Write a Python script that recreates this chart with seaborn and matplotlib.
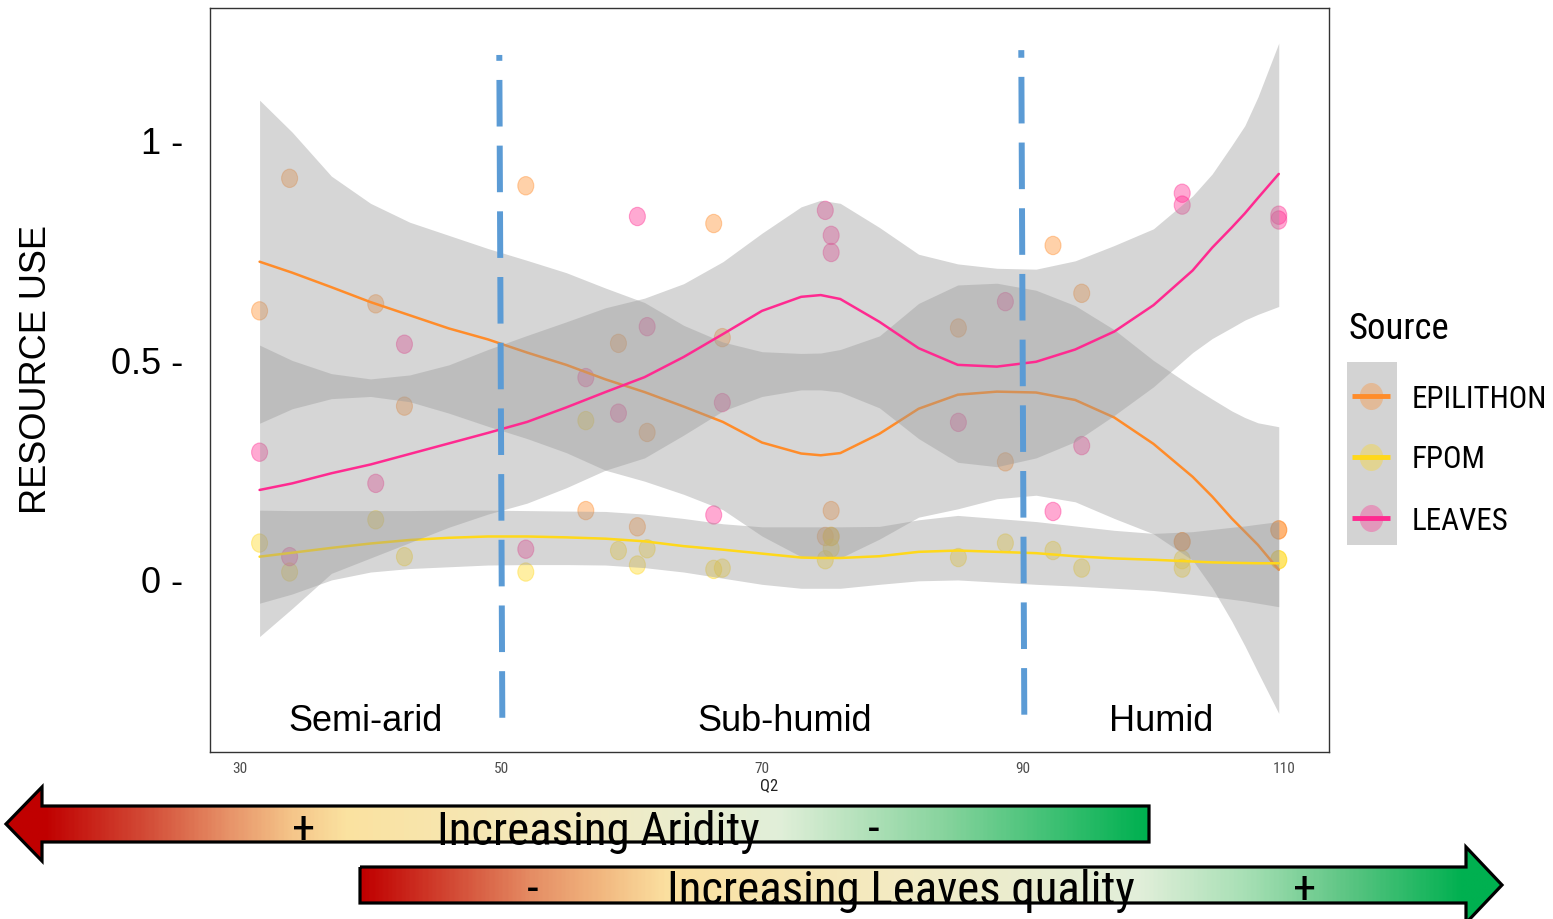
import os
import numpy as np
import pandas as pd
import matplotlib
matplotlib.use("Agg")
import matplotlib.pyplot as plt
import seaborn as sns
from matplotlib.path import Path
from matplotlib.patches import Polygon, Rectangle
from matplotlib.colors import LinearSegmentedColormap
from matplotlib import font_manager as fm
from matplotlib.font_manager import FontProperties

# ---------------- data ----------------
site_q2 = [31.5, 33.8, 40.4, 42.6, 51.9, 56.5, 59.0, 60.45, 61.2, 66.3, 66.96,
           74.85, 75.3, 75.3, 85.05, 88.65, 92.3, 94.5, 102.2, 102.2, 109.6, 109.6]
epilithon = [0.613, 0.915, 0.629, 0.396, 0.898, 0.158, 0.539, 0.121, 0.336, 0.812, 0.552,
             0.099, 0.099, 0.158, 0.574, 0.269, 0.762, 0.653, 0.087, 0.087, 0.114, 0.114]
fpom = [0.084, 0.018, 0.137, 0.053, 0.018, 0.363, 0.067, 0.034, 0.071, 0.024, 0.027,
        0.046, 0.099, 0.072, 0.051, 0.084, 0.067, 0.027, 0.027, 0.046, 0.046, 0.046]
leaves = [0.291, 0.053, 0.220, 0.537, 0.070, 0.461, 0.380, 0.828, 0.577, 0.148, 0.404,
          0.842, 0.785, 0.746, 0.359, 0.634, 0.156, 0.306, 0.881, 0.854, 0.831, 0.820]

# smoothed fits and their confidence bands
grid_q2 = [31.5, 34, 37, 40, 43, 46, 49, 52, 55, 58, 61, 64, 67, 70, 73, 74.5, 76, 79, 82,
           85, 88, 91, 94, 97, 100, 103, 104.5, 106, 107, 108, 109.6]
epi_fit = [0.725, 0.70, 0.667, 0.633, 0.603, 0.573, 0.548, 0.518, 0.49, 0.457, 0.428, 0.395,
           0.36, 0.313, 0.288, 0.284, 0.289, 0.333, 0.39, 0.422, 0.429, 0.427, 0.41, 0.37,
           0.31, 0.235, 0.19, 0.14, 0.11, 0.08, 0.023]
epi_hi = [1.093, 1.02, 0.92, 0.858, 0.815, 0.785, 0.755, 0.728, 0.70, 0.665, 0.632, 0.58,
          0.542, 0.52, 0.516, 0.517, 0.525, 0.556, 0.63, 0.672, 0.676, 0.66, 0.625, 0.57,
          0.5, 0.44, 0.412, 0.385, 0.37, 0.358, 0.349]
epi_lo = [0.357, 0.39, 0.413, 0.418, 0.406, 0.38, 0.35, 0.322, 0.29, 0.25, 0.225, 0.195,
          0.16, 0.1, 0.053, 0.049, 0.05, 0.093, 0.143, 0.162, 0.185, 0.193, 0.178, 0.14,
          0.105, 0.045, -0.018, -0.094, -0.15, -0.21, -0.304]
fpom_fit = [0.053, 0.062, 0.073, 0.083, 0.091, 0.096, 0.099, 0.099, 0.097, 0.094, 0.088,
            0.077, 0.069, 0.06, 0.051, 0.05, 0.05, 0.054, 0.064, 0.067, 0.064, 0.061,
            0.054, 0.049, 0.046, 0.042, 0.04, 0.039, 0.0385, 0.038, 0.038]
fpom_hi = [0.159, 0.158, 0.158, 0.158, 0.158, 0.159, 0.159, 0.158, 0.157, 0.156, 0.15, 0.14,
           0.128, 0.121, 0.121, 0.121, 0.121, 0.122, 0.137, 0.147, 0.14, 0.133, 0.123,
           0.113, 0.106, 0.11, 0.115, 0.12, 0.123, 0.127, 0.133]
fpom_lo = [-0.053, -0.032, 0.0, 0.018, 0.026, 0.03, 0.034, 0.035, 0.035, 0.034, 0.028,
           0.018, 0.004, -0.01, -0.019, -0.019, -0.019, -0.01, -0.002, 0.0, -0.005, -0.01,
           -0.014, -0.019, -0.024, -0.033, -0.038, -0.044, -0.048, -0.053, -0.061]
leaves_fit = [0.205, 0.22, 0.243, 0.263, 0.287, 0.311, 0.335, 0.36, 0.393, 0.428, 0.462,
              0.508, 0.56, 0.613, 0.645, 0.649, 0.64, 0.588, 0.528, 0.49, 0.486, 0.497,
              0.525, 0.566, 0.626, 0.705, 0.757, 0.803, 0.835, 0.87, 0.925]
leaves_hi = [0.535, 0.5, 0.47, 0.458, 0.467, 0.49, 0.525, 0.557, 0.588, 0.62, 0.642, 0.675,
             0.725, 0.79, 0.85, 0.865, 0.858, 0.803, 0.742, 0.72, 0.71, 0.708, 0.727,
             0.762, 0.8, 0.875, 0.925, 0.99, 1.035, 1.1, 1.223]
leaves_lo = [-0.129, -0.065, 0.015, 0.05, 0.085, 0.12, 0.15, 0.175, 0.21, 0.25, 0.278,
             0.33, 0.385, 0.418, 0.433, 0.433, 0.428, 0.392, 0.322, 0.268, 0.258, 0.278,
             0.315, 0.375, 0.44, 0.518, 0.55, 0.575, 0.592, 0.605, 0.623]

sources = ["EPILITHON", "FPOM", "LEAVES"]
source_colors = ["#ff8c2a", "#ffd81a", "#ff2a90"]
x_ticks = [30, 50, 70, 90, 110]
y_ticks = [0, 0.5, 1]
y_tick_labels = ["0 -", "0.5 -", "1 -"]
zone_bounds = [50, 90]
zone_names = ["Semi-arid", "Sub-humid", "Humid"]
zone_label_x = [39.6, 71.7, 100.6]

# ---------------- style ----------------
sns.set_theme(style="white")
names = {f.name for f in fm.fontManager.ttflist}
REG = "Liberation Sans" if "Liberation Sans" in names else "DejaVu Sans"
plt.rcParams["font.family"] = [REG, "DejaVu Sans"]
plt.rcParams["text.color"] = "black"
plt.rcParams["axes.labelcolor"] = "black"


def pick_narrow():
    ranks = [("liberationsansnarrow-regular", 0), ("arialn.", 1), ("arial narrow", 1),
             ("robotocondensed-regular", 2), ("notosans-condensed.", 3),
             ("opensans-condensed", 4), ("opensans_condensed-regular", 4),
             ("dejavusanscondensed.", 5)]
    best = None
    for f in fm.fontManager.ttflist:
        fn = os.path.basename(f.fname).lower()
        for key, r in ranks:
            if fn.startswith(key) and (best is None or r < best[0]):
                best = (r, f.fname)
    return best[1] if best else None


narrow_path = pick_narrow()


def NFP(size):
    if narrow_path:
        fp = FontProperties(fname=narrow_path)
    else:
        fp = FontProperties(family=REG)
    fp.set_size(size)
    return fp


W, H = 1553, 919
fig = plt.figure(figsize=(W / 100, H / 100), dpi=100)
fig.patch.set_facecolor("white")
renderer = fig.canvas.get_renderer()

# calibrate the narrow font so text widths match the picture
tmp = fig.text(0, 0, "Increasing Aridity", fontproperties=NFP(37))
NS = 323.0 / tmp.get_window_extent(renderer).width
tmp.remove()

ax = fig.add_axes([210 / W, 1 - 752 / H, 1119 / W, 744 / H])
ax.set_facecolor("white")

circ = Path.unit_circle()
ell = Path(circ.vertices * np.array([1.0, 1.15]), circ.codes)

pts = pd.DataFrame({
    "Q2": np.tile(site_q2, 3),
    "use": np.concatenate([epilithon, fpom, leaves]),
    "Source": np.repeat(sources, len(site_q2)),
})
pal = dict(zip(sources, source_colors))
sns.scatterplot(data=pts, x="Q2", y="use", hue="Source", palette=pal, alpha=0.4,
                s=175, marker=ell, edgecolor="face", linewidth=0.8, legend=False,
                ax=ax, zorder=2)

fits = [(epi_fit, epi_lo, epi_hi), (fpom_fit, fpom_lo, fpom_hi), (leaves_fit, leaves_lo, leaves_hi)]
for i, (src, (fit, lo, hi)) in enumerate(zip(sources, fits)):
    ax.fill_between(grid_q2, lo, hi, color="#999999", alpha=0.4, lw=0, zorder=3 + 2 * i)
    sns.lineplot(x=grid_q2, y=fit, color=pal[src], lw=1.8, ax=ax, zorder=4 + 2 * i,
                 sort=False, estimator=None)

# zone boundaries (dashed, drawn from bottom upwards)
for b, (yb, yt) in zip(zone_bounds, [(-0.314, 1.196), (-0.307, 1.207)]):
    ax.plot([b + 0.1, b - 0.13], [yb, yt], color="#5b9bd5", lw=4.3,
            dashes=(7.8, 3.2), dash_capstyle="butt", zorder=10)

for name, xz in zip(zone_names, zone_label_x):
    ax.text(xz, -0.323, name, ha="center", va="center", fontsize=26, color="black",
            family=REG, zorder=11)

ax.set_xlim(27.70, 113.45)
ax.set_ylim(-0.392, 1.303)
ax.set_xticks(x_ticks)
ax.set_xticklabels([str(v) for v in x_ticks])
for lab in ax.get_xticklabels():
    lab.set_fontproperties(NFP(12 * NS))
    lab.set_color("#4d4d4d")
ax.tick_params(axis="x", length=4, width=0.8, color="#4d4d4d", pad=3)
ax.set_yticks(y_ticks)
ax.set_yticklabels(y_tick_labels, fontsize=26, color="black", family=REG)
ax.tick_params(axis="y", length=0, pad=19)
ax.set_xlabel("Q2", fontproperties=NFP(13 * NS), color="#222222", labelpad=2)
ax.set_ylabel("")
for sp in ax.spines.values():
    sp.set_color("#333333")
    sp.set_linewidth(1.0)
ax.grid(False)

fig.text(37 / W, 1 - 369.5 / H, "RESOURCE USE", rotation=90, ha="center", va="center",
         fontsize=26, family=REG, color="black")

# ---------------- overlay: legend and arrows ----------------
ov = fig.add_axes([0, 0, 1, 1], zorder=5)
ov.patch.set_alpha(0)
ov.axis("off")

ov.text(1348, 329, "Source", fontproperties=NFP(29 * NS), ha="left", va="center",
        color="black")
ov.add_patch(Rectangle((1347, 362), 50, 183, color="#d3d3d3", lw=0))
for i, src in enumerate(sources):
    yk = 396 + 61 * i
    ov.scatter([1371], [yk], s=380, marker=ell, color=pal[src], alpha=0.35, lw=0, zorder=3)
    ov.plot([1352, 1390], [yk, yk], color=pal[src], lw=3.5, solid_capstyle="butt", zorder=4)
    ov.text(1412, yk + 3, src, fontproperties=NFP(24.5 * NS), ha="left", va="center",
            color="black")


def grad_arrow(verts, x0, x1, stops):
    cmap = LinearSegmentedColormap.from_list(
        "g", [((x - x0) / (x1 - x0), c) for x, c in stops])
    ys = [v[1] for v in verts]
    poly = Polygon(verts, closed=True, fc="none", ec="black", lw=2.3, zorder=3,
                   joinstyle="miter")
    ov.add_patch(poly)
    grad = np.linspace(0, 1, 600).reshape(1, -1)
    im = ov.imshow(grad, cmap=cmap, extent=(x0, x1, max(ys), min(ys)), aspect="auto",
                   zorder=2, interpolation="bilinear")
    im.set_clip_path(poly)


arrow1 = [(6, 824), (42, 787), (42, 806), (1149, 806), (1149, 842), (42, 842), (42, 861)]
stops1 = [(6, "#c00000"), (42, "#c00000"), (150, "#d4503a"), (230, "#e8956a"),
          (290, "#f5c589"), (345, "#fbe2a0"), (600, "#f2ebc4"), (780, "#e1efd9"),
          (950, "#85d39c"), (1149, "#00b050")]
grad_arrow(arrow1, 6, 1149, stops1)

arrow2 = [(360, 867), (1466, 867), (1466, 847), (1502, 885), (1466, 923), (1466, 903),
          (360, 903)]
stops2 = [(360, "#c00000"), (450, "#d34a35"), (530, "#e58d64"), (600, "#f2b880"),
          (665, "#fbe0a0"), (900, "#f3ebc4"), (1140, "#e2efda"), (1250, "#a6dfb4"),
          (1350, "#5cc583"), (1466, "#00b050"), (1502, "#00b050")]
grad_arrow(arrow2, 360, 1502, stops2)

big = NFP(37 * NS)
ov.text(598, 845, "Increasing Aridity", fontproperties=big, ha="center",
        va="baseline", zorder=5, color="black")
ov.text(304, 843, "+", fontproperties=big, ha="center", va="baseline", zorder=5,
        color="black")
ov.text(874, 843, "-", fontproperties=big, ha="center", va="baseline", zorder=5,
        color="black")
ov.text(901, 904, "Increasing Leaves quality", fontproperties=big, ha="center",
        va="baseline", zorder=5, color="black")
ov.text(533, 903, "-", fontproperties=big, ha="center", va="baseline", zorder=5,
        color="black")
ov.text(1305, 903, "+", fontproperties=big, ha="center", va="baseline", zorder=5,
        color="black")

ov.set_xlim(0, W)
ov.set_ylim(H, 0)

fig.savefig("out.png", dpi=100, facecolor="white")
